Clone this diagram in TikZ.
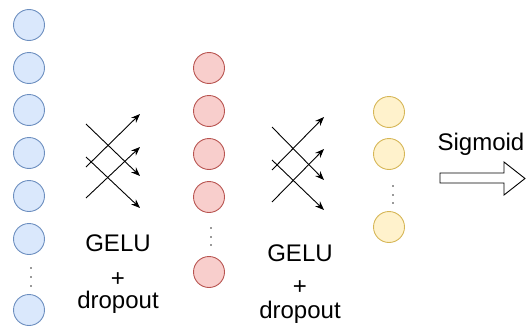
\documentclass[tikz,border=0pt]{standalone}
\usepackage{fontspec}
\setmainfont{Liberation Sans}
\usetikzlibrary{arrows.meta}
\definecolor{bfill}{HTML}{DAE8FC}\definecolor{bline}{HTML}{6C8EBF}
\definecolor{rfill}{HTML}{F8CECC}\definecolor{rline}{HTML}{B85450}
\definecolor{yfill}{HTML}{FFF2CC}\definecolor{yline}{HTML}{D6B656}
\tikzset{
  neuron/.style={circle, minimum size=31pt, inner sep=0pt, line width=0.9pt},
  bn/.style={neuron, draw=bline, fill=bfill},
  rn/.style={neuron, draw=rline, fill=rfill},
  yn/.style={neuron, draw=yline, fill=yfill},
  vdot/.style={circle, fill=black!80, inner sep=0pt, minimum size=1.8pt},
  conn/.style={line width=0.9pt, -{Stealth[length=9pt,width=7pt]}},
  lbl/.style={font=\fontsize{24}{28}\selectfont, inner sep=0pt}
}
\begin{document}
\begin{tikzpicture}[x=1pt,y=-1pt]
\useasboundingbox (0,0) rectangle (527,332);
% blue column
\foreach \i/\y in {1/25,2/68,3/110,4/153,5/196,6/239,7/310}
  \node[bn] (b\i) at (29,\y) {};
\foreach \y [count=\k] in {268,277,286} \node[vdot] (bd\k) at (31,\y) {};
% red column
\foreach \i/\y in {1/68,2/111,3/154,4/197,5/272}
  \node[rn] (r\i) at (209,\y) {};
\foreach \y [count=\k] in {228,237,245} \node[vdot] (rd\k) at (211,\y) {};
% yellow column
\foreach \i/\y in {1/112,2/154,3/227}
  \node[yn] (y\i) at (389,\y) {};
\foreach \y [count=\k] in {186,195,203} \node[vdot] (yd\k) at (393,\y) {};
% first crossing arrows
\coordinate (a1s) at (86,167); \coordinate (a1e) at (140,114);
\coordinate (a2s) at (86,198); \coordinate (a2e) at (140,147);
\coordinate (a3s) at (86,124); \coordinate (a3e) at (140,176);
\coordinate (a4s) at (86,157); \coordinate (a4e) at (140,208);
\foreach \k in {1,2,3,4} \draw[conn] (a\k s) -- (a\k e);
% second crossing arrows
\coordinate (c1s) at (272,170); \coordinate (c1e) at (324,117);
\coordinate (c2s) at (272,202); \coordinate (c2e) at (324,149);
\coordinate (c3s) at (272,127); \coordinate (c3e) at (324,180);
\coordinate (c4s) at (272,160); \coordinate (c4e) at (324,210);
\foreach \k in {1,2,3,4} \draw[conn] (c\k s) -- (c\k e);
% labels
\node[lbl] (g1) at (118,243) {GELU};
\node[lbl] (p1) at (118,280) {+};
\node[lbl, anchor=base] (d1) at (118,308) {dropout};
\node[lbl] (g2) at (300,253) {GELU};
\node[lbl] (p2) at (300,288) {+};
\node[lbl, anchor=base] (d2) at (300,318) {dropout};
\node[lbl, anchor=base] (sg) at (481,150) {Sigmoid};
% block arrow
\draw[line width=0.9pt, fill=white] (440,173) -- (504,173) -- (504,162) -- (525,178.5)
  -- (504,195) -- (504,183) -- (440,183) -- cycle;
\end{tikzpicture}
\end{document}
